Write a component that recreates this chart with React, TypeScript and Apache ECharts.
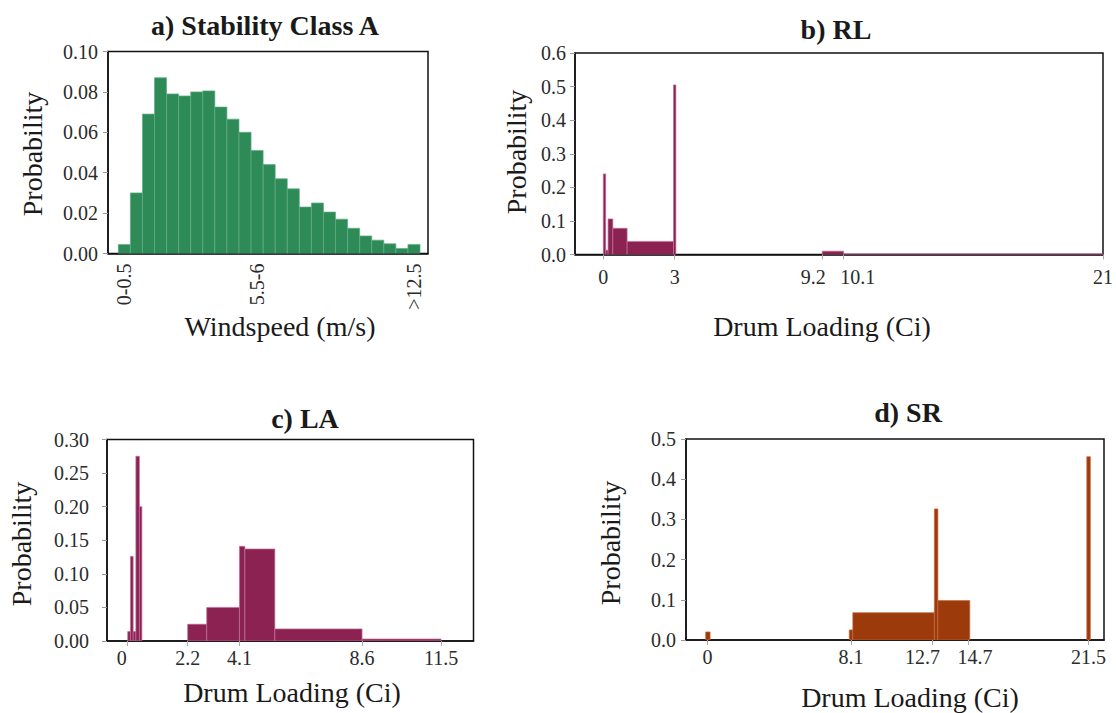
import React, { useEffect, useRef } from "react";
import * as echarts from "echarts";

// ---------- Data ----------
// a) Stability Class A : windspeed bins (m/s) and probability
const windLabels = [
  "0-0.5", "0.5-1", "1-1.5", "1.5-2", "2-2.5", "2.5-3", "3-3.5", "3.5-4", "4-4.5",
  "4.5-5", "5-5.5", "5.5-6", "6-6.5", "6.5-7", "7-7.5", "7.5-8", "8-8.5", "8.5-9",
  "9-9.5", "9.5-10", "10-10.5", "10.5-11", "11-11.5", "11.5-12", ">12.5",
];
const windProb = [
  0.0045, 0.03, 0.069, 0.087, 0.079, 0.078, 0.08, 0.0805, 0.0725, 0.0665, 0.06, 0.051,
  0.044, 0.037, 0.032, 0.023, 0.025, 0.0205, 0.017, 0.0125, 0.0087, 0.0066, 0.0048,
  0.0025, 0.0045,
];
const windLabelIdx = [0, 11, 24];

// b) RL : drum loading bins (Ci)
const rlBinStart = [0, 0.1, 0.2, 0.4, 1.0, 2.95, 9.2, 10.1];
const rlBinEnd = [0.1, 0.2, 0.4, 1.0, 2.95, 3.05, 10.1, 21];
const rlProb = [0.24, 0.013, 0.106, 0.078, 0.039, 0.505, 0.01, 0.002];
const rlTicks = [0, 3, 9.2, 10.1, 21];

// c) LA
const laBinStart = [0, 0.1, 0.2, 0.3, 0.43, 2.2, 2.9, 4.1, 4.3, 5.4, 8.6];
const laBinEnd = [0.1, 0.2, 0.3, 0.43, 0.52, 2.9, 4.1, 4.3, 5.4, 8.6, 11.5];
const laProb = [0.014, 0.126, 0.014, 0.275, 0.2, 0.025, 0.05, 0.141, 0.137, 0.018, 0.003];
const laTicks = [0, 2.2, 4.1, 8.6, 11.5];

// d) SR
const srBinStart = [-0.1, 8.0, 8.2, 12.8, 13.0, 21.4];
const srBinEnd = [0.15, 8.2, 12.8, 13.0, 14.8, 21.6];
const srProb = [0.02, 0.025, 0.068, 0.326, 0.098, 0.456];
const srTicks = [0, 8.1, 12.7, 14.7, 21.5];

// ---------- Styling ----------
const SERIF = '"Liberation Serif", "Times New Roman", Times, serif';
const TICK_COLOR = "#2b2b2b";
const NAME_COLOR = "#1a1a1a";

function histSeries(idx: number, starts: number[], ends: number[], probs: number[], fill: string, edge: string) {
  return {
    type: "custom",
    xAxisIndex: idx,
    yAxisIndex: idx,
    clip: true,
    data: starts.map((s, i) => [s, ends[i], probs[i]]),
    encode: { x: [0, 1], y: 2 },
    renderItem: (_params: any, api: any) => {
      const p0 = api.coord([api.value(0), api.value(2)]);
      const p1 = api.coord([api.value(1), 0]);
      return {
        type: "rect",
        shape: { x: p0[0], y: p0[1], width: p1[0] - p0[0], height: p1[1] - p0[1] },
        style: { fill, stroke: edge, lineWidth: 0.7 },
      };
    },
  };
}

function yAxisCfg(idx: number, max: number, interval: number, digits: number, margin: number) {
  return {
    type: "value",
    gridIndex: idx,
    min: 0,
    max,
    interval,
    axisLine: { show: true, onZero: false, lineStyle: { color: "#111", width: 1.5 } },
    axisTick: { show: true, length: 5, lineStyle: { color: "#999", width: 1 } },
    splitLine: { show: false },
    axisLabel: {
      margin,
      fontFamily: SERIF,
      fontSize: 20,
      color: TICK_COLOR,
      formatter: (v: number) => v.toFixed(digits),
    },
  };
}

function richStyle(padding: number[]) {
  return { padding, fontFamily: SERIF, fontSize: 20, color: TICK_COLOR };
}

function xAxisCfg(idx: number, min: number, max: number, ticks: number[], margin: number, formatter: any, rich: any) {
  return {
    type: "value",
    gridIndex: idx,
    min,
    max,
    axisLine: { show: true, onZero: false, lineStyle: { color: "#111", width: 1.5 } },
    axisTick: { show: true, customValues: ticks, length: 5, lineStyle: { color: "#aaa", width: 1 } },
    splitLine: { show: false },
    axisLabel: {
      customValues: ticks,
      margin,
      fontFamily: SERIF,
      fontSize: 20,
      color: TICK_COLOR,
      formatter,
      rich,
    },
  };
}

function txt(text: string, x: number, y: number, size: number, bold: boolean, rotation = 0) {
  return {
    type: "text",
    x,
    y,
    rotation,
    silent: true,
    style: {
      text,
      fill: NAME_COLOR,
      fontFamily: SERIF,
      fontSize: size,
      fontWeight: bold ? "bold" : "normal",
      align: "center",
      verticalAlign: "middle",
      textAlign: "center",
      textVerticalAlign: "middle",
    },
  };
}

export default function App() {
  const ref = useRef<HTMLDivElement>(null);

  useEffect(() => {
    if (!ref.current) return;
    document.body.style.margin = "0";
    const chart = echarts.init(ref.current, undefined, { renderer: "svg" });

    const windStart = windProb.map((_, i) => i - 0.5);
    const windEnd = windProb.map((_, i) => i + 0.5);

    const option: any = {
      animation: false,
      backgroundColor: "#ffffff",
      grid: [
        { left: 108, top: 51.5, width: 320, height: 202, show: true, borderColor: "#111", borderWidth: 1.5, backgroundColor: "transparent" },
        { left: 575, top: 53, width: 529, height: 201.5, show: true, borderColor: "#111", borderWidth: 1.5, backgroundColor: "transparent" },
        { left: 107, top: 439.5, width: 366.5, height: 201.5, show: true, borderColor: "#111", borderWidth: 1.5, backgroundColor: "transparent" },
        { left: 686, top: 439, width: 418, height: 201, show: true, borderColor: "#111", borderWidth: 1.5, backgroundColor: "transparent" },
      ],
      xAxis: [
        {
          type: "value",
          gridIndex: 0,
          min: -1.353,
          max: 25.16,
          axisLine: { show: true, onZero: false, lineStyle: { color: "#111", width: 1.5 } },
          axisTick: { show: false },
          splitLine: { show: false },
          axisLabel: {
            customValues: windLabelIdx,
            rotate: 90,
            margin: 10,
            fontFamily: SERIF,
            fontSize: 20,
            color: TICK_COLOR,
            formatter: (v: number) => windLabels[Math.round(v)],
          },
        },
        xAxisCfg(1, -1.19, 21, rlTicks, 12,
          (v: number) => (v === 9.2 ? "{r|9.2}" : v === 10.1 ? "{l|10.1}" : String(v)),
          { r: richStyle([0, 18, 0, 0]), l: richStyle([0, 0, 0, 28]) }),
        xAxisCfg(2, -0.76, 12.69, laTicks, 7,
          (v: number) => (v === 0 ? "{r|0}" : String(v)),
          { r: richStyle([0, 12, 0, 0]) }),
        xAxisCfg(3, -1.21, 22.37, srTicks, 7,
          (v: number) => (v === 12.7 ? "{r|12.7}" : v === 14.7 ? "{l|14.7}" : String(v)),
          { r: richStyle([0, 20, 0, 0]), l: richStyle([0, 0, 0, 14]) }),
      ],
      yAxis: [
        yAxisCfg(0, 0.1, 0.02, 2, 10),
        yAxisCfg(1, 0.6, 0.1, 1, 9),
        yAxisCfg(2, 0.3, 0.05, 2, 18),
        yAxisCfg(3, 0.5, 0.1, 1, 10),
      ],
      series: [
        histSeries(0, windStart, windEnd, windProb, "#2e8b57", "#5fae84"),
        histSeries(1, rlBinStart, rlBinEnd, rlProb, "#8b2252", "#c0709a"),
        histSeries(2, laBinStart, laBinEnd, laProb, "#8b2252", "#c0709a"),
        histSeries(3, srBinStart, srBinEnd, srProb, "#9c3a0c", "#c46a3e"),
      ],
      graphic: [
        txt("a) Stability Class A", 265, 25, 28, true),
        txt("b) RL", 836, 29, 28, true),
        txt("c) LA", 305, 418, 28, true),
        txt("d) SR", 908, 412.5, 28, true),
        txt("Windspeed (m/s)", 280, 326, 28, false),
        txt("Drum Loading (Ci)", 822, 326.5, 28, false),
        txt("Drum Loading (Ci)", 292, 692.5, 28, false),
        txt("Drum Loading (Ci)", 910, 697, 28, false),
        txt("Probability", 32, 154, 28, false, Math.PI / 2),
        txt("Probability", 516, 152, 28, false, Math.PI / 2),
        txt("Probability", 21, 544, 28, false, Math.PI / 2),
        txt("Probability", 610, 543, 28, false, Math.PI / 2),
      ],
    };

    chart.setOption(option);
    return () => chart.dispose();
  }, []);

  return (
    <div
      ref={ref}
      style={{ position: "absolute", left: 0, top: 0, width: 1116, height: 713, background: "#fff" }}
    />
  );
}
